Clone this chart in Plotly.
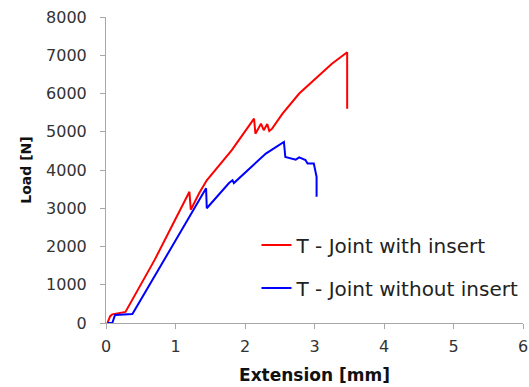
import plotly.graph_objects as go

# Series
with_insert_x = [0.02, 0.06, 0.09, 0.28, 0.70, 1.20, 1.22, 1.34, 1.45, 1.63, 1.81, 2.13,
                 2.15, 2.23, 2.27, 2.32, 2.35, 2.39, 2.54, 2.78, 3.25, 3.47, 3.47]
with_insert_y = [0, 180, 225, 290, 1650, 3430, 2960, 3390, 3730, 4120, 4520, 5345,
                 4950, 5210, 5040, 5200, 5020, 5080, 5475, 6000, 6780, 7080, 5600]

without_insert_x = [0.02, 0.09, 0.13, 0.38, 0.95, 1.44, 1.45, 1.55, 1.63, 1.77, 1.82, 1.84,
                    2.30, 2.56, 2.58, 2.73, 2.78, 2.87, 2.90, 2.99, 3.03, 3.03]
without_insert_y = [0, 0, 210, 235, 2000, 3520, 3000, 3210, 3390, 3660, 3730, 3660,
                    4430, 4735, 4340, 4270, 4330, 4260, 4170, 4170, 3820, 3300]

series_names = ["T - Joint with insert", "T - Joint without insert"]
series_colors = ["#ff0000", "#0000ff"]

x_ticks = [0, 1, 2, 3, 4, 5, 6]
y_ticks = [0, 1000, 2000, 3000, 4000, 5000, 6000, 7000, 8000]

fig = go.Figure()
fig.add_trace(go.Scatter(x=with_insert_x, y=with_insert_y, mode="lines",
                         name=series_names[0], legendgroup="a",
                         line=dict(color=series_colors[0], width=2)))
fig.add_trace(go.Scatter(x=without_insert_x, y=without_insert_y, mode="lines",
                         name=series_names[1], legendgroup="b",
                         line=dict(color=series_colors[1], width=2)))

axis_col = "#a8a8a8"
font_main = "DejaVu Sans, Liberation Sans, Arial, sans-serif"

fig.update_layout(
    width=529, height=387,
    margin=dict(l=106, r=5, t=17, b=64),
    paper_bgcolor="white", plot_bgcolor="white",
    font=dict(family=font_main, size=15, color="#333333"),
    showlegend=True,
    legend=dict(x=0.36, y=0.319, xanchor="left", yanchor="top",
                bgcolor="rgba(0,0,0,0)", font=dict(size=20, color="#222222"),
                traceorder="grouped", tracegroupgap=14, itemwidth=30),
)
fig.update_xaxes(
    range=[0, 6], tickvals=x_ticks, ticktext=[str(v) for v in x_ticks],
    showgrid=False, zeroline=False, showline=True, linecolor=axis_col, linewidth=1,
    ticks="outside", ticklen=5, tickcolor=axis_col, ticklabelstandoff=4,
    tickfont=dict(size=16, color="#333333"), automargin=False,
    title=dict(text="<b>Extension [mm]</b>", font=dict(size=17, color="#111111"), standoff=13),
)
fig.update_yaxes(
    range=[0, 8000], tickvals=y_ticks, ticktext=[str(v) for v in y_ticks],
    showgrid=False, zeroline=False, showline=True, linecolor=axis_col, linewidth=1,
    ticks="outside", ticklen=5, tickcolor=axis_col, ticklabelstandoff=10,
    tickfont=dict(size=16, color="#333333"), automargin=False,
    title=dict(text="<b>Load [N]</b>", font=dict(size=14, color="#111111"), standoff=11),
)

fig.write_html("out.html", config={"displayModeBar": False},
               post_script="document.body.style.margin='0px';")
